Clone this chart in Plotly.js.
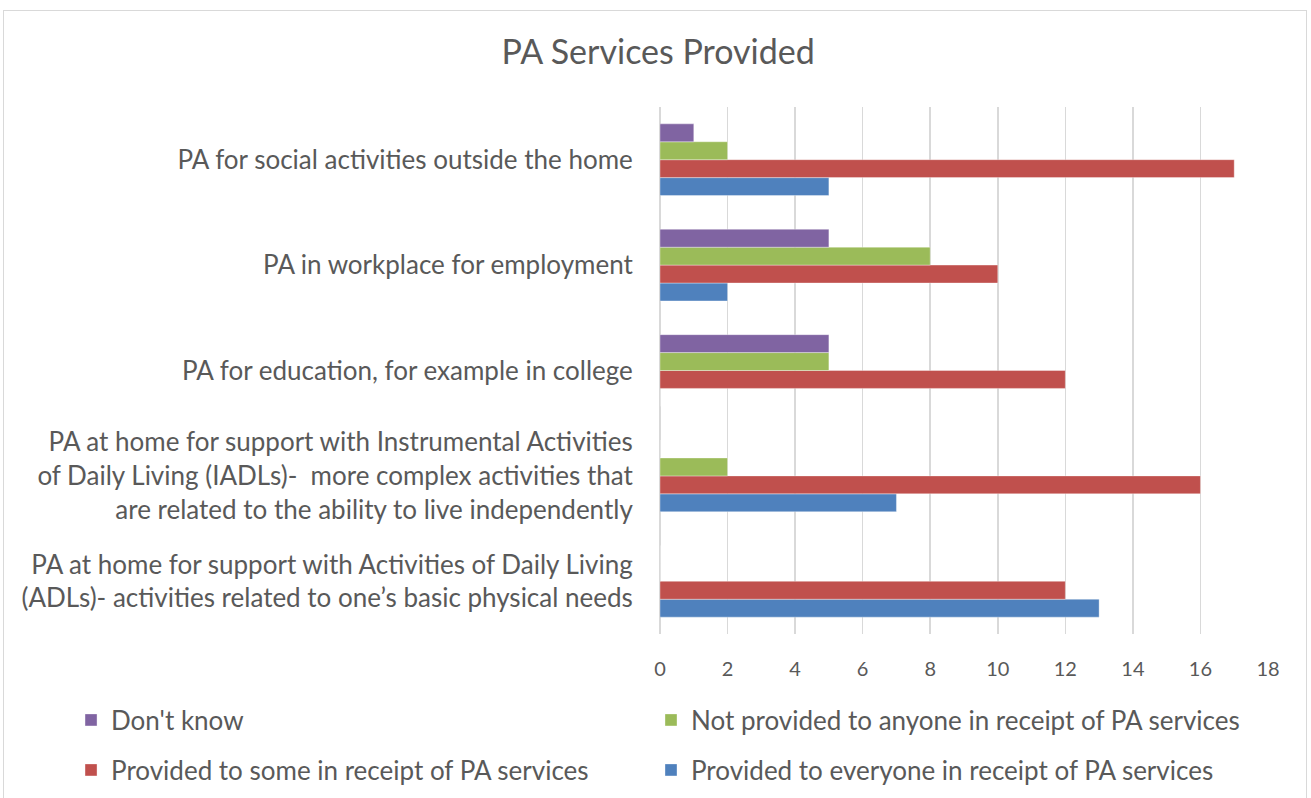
<!DOCTYPE html>
<html>
<head>
<meta charset="utf-8">
<script src="https://cdn.plot.ly/plotly-3.0.1.min.js"></script>
<style>
  html, body { margin: 0; padding: 0; background: #fff; }
  #chart { width: 1311px; height: 798px; }
  #frame { position: absolute; left: 3px; top: 10px; width: 1302px; height: 800px; border: 1px solid #d9d9d9; pointer-events: none; }
</style>
</head>
<body>
<div id="chart"></div>
<div id="frame"></div>
<script>
// Categories (bottom to top)
const categories = [
  "PA at home for support with Activities of Daily Living<br>(ADLs)- activities related to one’s basic physical needs",
  "PA at home for support with Instrumental Activities<br>of Daily Living (IADLs)-  more complex activities that<br>are related to the ability to live independently",
  "PA for education, for example in college",
  "PA in workplace for employment",
  "PA for social activities outside the home"
];
const providedEveryone = [13, 7, 0, 2, 5];
const providedSome     = [12, 16, 12, 10, 17];
const notProvided      = [0, 2, 5, 8, 2];
const dontKnow         = [0, 0, 5, 5, 1];
const xTicks = [0, 2, 4, 6, 8, 10, 12, 14, 16, 18];

const txt = '#595959';
function bar(name, vals, color, legend) {
  return {
    type: 'bar', orientation: 'h', name: name, x: vals, y: categories,
    marker: { color: color, line: { color: 'rgba(255,255,255,0.35)', width: 1 } },
    legend: legend, hoverinfo: 'x+name'
  };
}
const data = [
  bar('Provided to everyone in receipt of PA services', providedEveryone, '#4F81BD', 'legend4'),
  bar('Provided to some in receipt of PA services', providedSome, '#C0504D', 'legend3'),
  bar('Not provided to anyone in receipt of PA services', notProvided, '#9BBB59', 'legend2'),
  bar("Don't know", dontKnow, '#8064A2', 'legend')
];
function leg(x, y) {
  return { orientation: 'h', x: x, xanchor: 'left', y: y, yanchor: 'middle',
           font: { size: 26, color: txt }, bgcolor: 'rgba(0,0,0,0)', itemwidth: 30 };
}
const layout = {
  width: 1311, height: 798,
  margin: { l: 660, r: 43, t: 107, b: 164, autoexpand: false },
  paper_bgcolor: '#ffffff', plot_bgcolor: '#ffffff',
  font: { family: 'Lato, sans-serif', color: txt, size: 26 },
  title: { text: 'PA Services Provided', font: { size: 34, color: txt, family: 'Lato, sans-serif' }, x: 0.502, xanchor: 'center', y: 0.935, yanchor: 'middle' },
  barmode: 'group', bargap: 0.32, bargroupgap: 0,
  xaxis: {
    range: [0, 18], tickvals: xTicks, ticktext: xTicks.map(String),
    showgrid: true, gridcolor: '#d9d9d9', gridwidth: 1.5,
    zeroline: true, zerolinecolor: '#d9d9d9', zerolinewidth: 1.5,
    showline: false, ticks: 'outside', ticklen: 17, tickcolor: 'rgba(0,0,0,0)',
    tickfont: { size: 20, color: txt }, fixedrange: true, automargin: false
  },
  yaxis: {
    type: 'category', categoryorder: 'array', categoryarray: categories,
    showgrid: false, zeroline: false, showline: false, ticks: 'outside', ticklen: 21, tickcolor: 'rgba(0,0,0,0)',
    tickfont: { size: 26, color: txt }, fixedrange: true, automargin: false
  },
  legend:  leg(-0.9687, -0.1632),
  legend2: leg(-0.0148, -0.1632),
  legend3: leg(-0.9687, -0.2581),
  legend4: leg(-0.0148, -0.2581),
  showlegend: true
};
Plotly.newPlot('chart', data, layout, { displayModeBar: false, staticPlot: true });
</script>
</body>
</html>
